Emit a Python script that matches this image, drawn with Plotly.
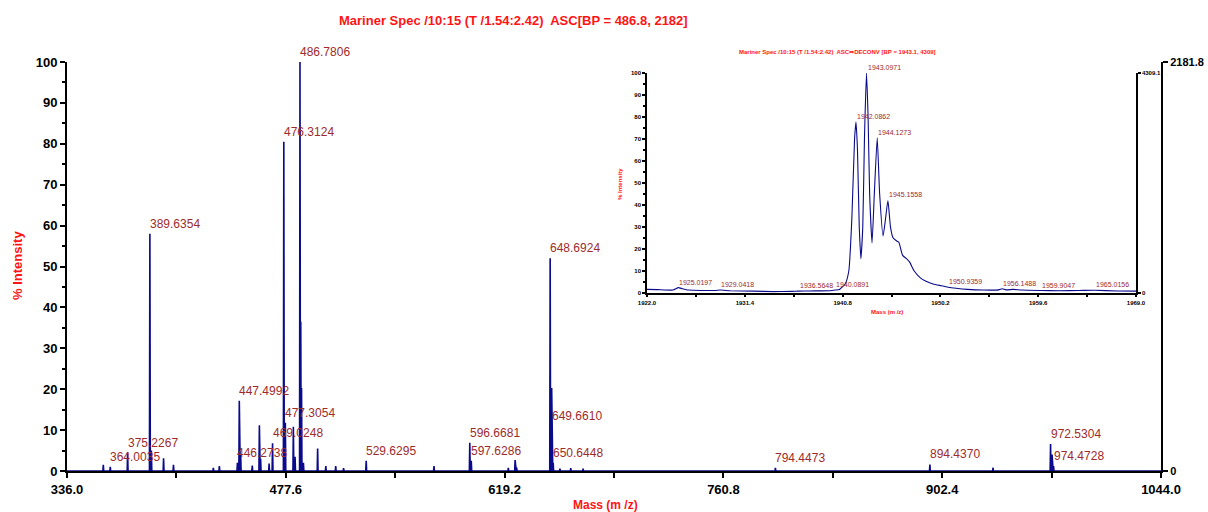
import plotly.graph_objects as go

# ---- Main spectrum: centroided peaks (m/z, % intensity) ----
peak_mz = [359.5, 364.0035, 375.2267, 389.6354, 390.6, 398.5, 404.9, 430.7, 434.6,
           446.2738, 447.4992, 448.4, 455.9, 460.5, 461.3, 466.8, 469.0248,
           476.3124, 477.3054, 482.5, 483.6, 486.7806, 487.28, 487.78, 489.0,
           498.2, 503.5, 509.9, 515.0, 529.6295, 573.5, 596.6681, 597.6286,
           621.6, 626.0, 627.0, 648.6924, 649.6610, 650.6448, 655.0, 662.0, 670.0,
           794.4473, 894.4370, 935.3, 972.5304, 973.5, 974.4728]
peak_int = [1.5, 1.0, 4.5, 58.0, 5.0, 3.1, 1.5, 0.8, 1.2,
            2.0, 17.2, 4.0, 1.3, 11.2, 3.0, 1.8, 6.8,
            80.5, 11.8, 10.8, 3.5, 100.0, 36.5, 20.3, 2.0,
            5.5, 1.2, 1.2, 0.7, 2.5, 1.2, 6.9, 2.5,
            0.8, 2.7, 0.8, 52.0, 20.3, 2.0, 0.6, 0.7, 0.6,
            0.8, 1.6, 0.8, 6.6, 4.0, 1.2]

label_mz = [364.0035, 375.2267, 389.6354, 446.2738, 447.4992, 469.0248, 476.3124,
            477.3054, 486.7806, 529.6295, 596.6681, 597.6286, 648.6924, 649.6610,
            650.6448, 794.4473, 894.4370, 972.5304, 974.4728]

# ---- Deconvoluted inset: profile (mass, % intensity) ----
inset_mz = [1922.0, 1923.0, 1924.5, 1925.0197, 1925.4, 1926.0, 1928.5, 1929.0418,
            1930.0, 1932.2, 1934.1, 1935.9, 1936.5648, 1937.6, 1939.6, 1940.0891,
            1940.5, 1941.05, 1941.4, 1941.7, 1941.95, 1942.0862, 1942.23, 1942.4,
            1942.56, 1942.74, 1942.9, 1943.0971, 1943.25, 1943.4, 1943.63, 1943.85,
            1944.1273, 1944.36, 1944.69, 1944.91, 1945.1558, 1945.4, 1945.65, 1946.0,
            1946.2, 1946.57, 1946.94, 1947.23, 1947.67, 1948.22, 1948.77, 1949.5,
            1950.25, 1950.9359, 1951.7, 1952.8, 1954.3, 1955.8, 1956.1488, 1956.5,
            1957.2, 1958.0, 1959.9047, 1961.6, 1963.5, 1965.0156, 1967.2, 1969.0]
inset_int = [1.5, 1.4, 1.2, 2.3, 1.8, 1.2, 1.0, 1.2,
             0.9, 0.7, 0.5, 0.6, 0.7, 0.8, 0.9, 1.2,
             1.5, 4.0, 10.0, 35.0, 70.0, 77.7, 65.0, 30.0,
             15.5, 30.0, 70.0, 100.0, 80.0, 45.0, 22.7, 45.0,
             70.5, 45.0, 25.8, 33.0, 42.0, 30.0, 25.0, 23.5,
             23.0, 17.0, 15.5, 14.0, 10.0, 7.0, 5.3, 4.0,
             3.2, 2.5, 2.0, 1.5, 1.2, 1.3, 1.8, 1.3,
             1.5, 1.2, 1.0, 0.9, 1.0, 1.1, 0.8, 0.7]

inset_label_mz = [1925.0197, 1929.0418, 1936.5648, 1940.0891, 1942.0862, 1943.0971,
                  1944.1273, 1945.1558, 1950.9359, 1956.1488, 1959.9047, 1965.0156]

main_x_ticks = [336.0, 477.6, 619.2, 760.8, 902.4, 1044.0]
inset_x_ticks = [1922.0, 1931.4, 1940.8, 1950.2, 1959.6, 1969.0]
main_bp_counts = 2181.8
inset_bp_counts = 4309.1

# ---- layout geometry (pixels) ----
W, H = 1208, 512
L, R, T, B = 67, 1161, 62, 471


def px_x(x):
    return (x - L) / (R - L)


def px_y(y):
    return (B - y) / (B - T)


NAVY = "#0A0A8C"
LABEL_RED = "#9E2B2B"
TITLE_RED = "#FF1414"
SANS = "Liberation Sans, Arial, sans-serif"

# stick spectrum drawn as narrow spikes on a continuous baseline
hw = 0.28
xs, ys = [main_x_ticks[0]], [0.0]
for mz, inten in sorted(zip(peak_mz, peak_int)):
    xs += [mz - hw, mz, mz + hw]
    ys += [0.0, inten, 0.0]
xs.append(main_x_ticks[-1])
ys.append(0.0)

fig = go.Figure()
fig.add_trace(go.Scatter(x=xs, y=ys, mode="lines", line=dict(color=NAVY, width=1.6),
                         xaxis="x", yaxis="y", hoverinfo="skip", showlegend=False))
fig.add_trace(go.Scatter(x=[main_x_ticks[0]], y=[0], mode="markers", marker=dict(opacity=0),
                         xaxis="x", yaxis="y2", hoverinfo="skip", showlegend=False))
fig.add_trace(go.Scatter(x=inset_mz, y=inset_int, mode="lines",
                         line=dict(color=NAVY, width=1.1, shape="spline", smoothing=0.5),
                         xaxis="x2", yaxis="y3", hoverinfo="skip", showlegend=False))
fig.add_trace(go.Scatter(x=[inset_x_ticks[0]], y=[0], mode="markers", marker=dict(opacity=0),
                         xaxis="x2", yaxis="y4", hoverinfo="skip", showlegend=False))

ann = []
lookup = dict(zip(peak_mz, peak_int))
nudge = {649.6610: -38}
for mz in label_mz:
    ann.append(dict(x=mz, y=lookup[mz], xref="x", yref="y", text=f"{mz:.4f}",
                    xanchor="left", yanchor="bottom", showarrow=False, xshift=-2,
                    yshift=1 + nudge.get(mz, 0),
                    font=dict(family=SANS, size=12, color=LABEL_RED)))

ilookup = dict(zip(inset_mz, inset_int))
for mz in inset_label_mz:
    ann.append(dict(x=mz, y=ilookup[mz], xref="x2", yref="y3", text=f"{mz:.4f}",
                    xanchor="left", yanchor="bottom", showarrow=False, xshift=-1,
                    yshift=0, font=dict(family=SANS, size=7, color=LABEL_RED)))

# titles
ann.append(dict(x=px_x(513), y=px_y(20), xref="paper", yref="paper",
                text="Mariner Spec /10:15 (T /1.54:2.42)  ASC[BP = 486.8, 2182]",
                showarrow=False, xanchor="center", yanchor="middle",
                font=dict(family=SANS, size=13, color=TITLE_RED, weight="bold")))
ann.append(dict(x=px_x(17), y=px_y(266), xref="paper", yref="paper", text="% Intensity",
                textangle=-90, showarrow=False, xanchor="center", yanchor="middle",
                font=dict(family=SANS, size=13, color=TITLE_RED, weight="bold")))
ann.append(dict(x=px_x(605), y=px_y(505), xref="paper", yref="paper", text="Mass (m /z)",
                showarrow=False, xanchor="center", yanchor="middle",
                font=dict(family=SANS, size=12, color=TITLE_RED, weight="bold")))
ann.append(dict(x=px_x(837), y=px_y(52), xref="paper", yref="paper",
                text="Mariner Spec /10:15 (T /1.54:2.42)  ASC\u21d2DECONV [BP = 1943.1, 4309]",
                showarrow=False, xanchor="center", yanchor="middle",
                font=dict(family=SANS, size=6, color=TITLE_RED, weight="bold")))
ann.append(dict(x=px_x(620), y=px_y(184), xref="paper", yref="paper", text="% Intensity",
                textangle=-90, showarrow=False, xanchor="center", yanchor="middle",
                font=dict(family=SANS, size=6, color=TITLE_RED, weight="bold")))
ann.append(dict(x=px_x(887), y=px_y(312), xref="paper", yref="paper", text="Mass (m /z)",
                showarrow=False, xanchor="center", yanchor="middle",
                font=dict(family=SANS, size=6, color=TITLE_RED, weight="bold")))

tickfont_main = dict(family=SANS, size=13, color="black", weight="bold")
tickfont_right = dict(family=SANS, size=11, color="black", weight="bold")
tickfont_inset = dict(family=SANS, size=6, color="black", weight="bold")

ix0, ix1 = px_x(647), px_x(1136)
iy0, iy1 = px_y(292.7), px_y(73)

fig.update_layout(
    width=W, height=H, autosize=False,
    margin=dict(l=L, r=W - R, t=T, b=H - B, pad=0, autoexpand=False),
    plot_bgcolor="white", paper_bgcolor="white",
    showlegend=False,
    annotations=ann,
    xaxis=dict(domain=[0, 1], range=[main_x_ticks[0], main_x_ticks[-1]], anchor="y",
               automargin=False,
               tickvals=main_x_ticks, ticktext=[f"{v:.1f}" for v in main_x_ticks],
               ticks="outside", ticklen=5, tickwidth=2, tickcolor="black",
               minor=dict(dtick=70.8, tick0=336.0, ticks="outside", ticklen=5,
                          tickwidth=2, tickcolor="black"),
               showline=True, linewidth=2, linecolor="black", showgrid=False,
               zeroline=False, tickfont=tickfont_main),
    yaxis=dict(domain=[0, 1], range=[0, 100], anchor="x", tick0=0, dtick=10,
               automargin=False,
               ticks="outside", ticklen=5, tickwidth=2, tickcolor="black",
               minor=dict(dtick=5, ticks="outside", ticklen=3, tickwidth=2,
                          tickcolor="black"),
               showline=True, linewidth=2, linecolor="black", showgrid=False,
               zeroline=False, tickfont=tickfont_main),
    yaxis2=dict(overlaying="y", side="right", anchor="x", range=[0, main_bp_counts],
                automargin=False,
                tickvals=[0, main_bp_counts], ticktext=["0", f"{main_bp_counts:.1f}"],
                ticks="outside", ticklen=5, tickwidth=2, tickcolor="black",
                showline=True, linewidth=2, linecolor="black", showgrid=False,
                zeroline=False, tickfont=tickfont_right),
    xaxis2=dict(domain=[ix0, ix1], range=[inset_x_ticks[0], inset_x_ticks[-1]], anchor="y3",
                automargin=False,
                tickvals=inset_x_ticks, ticktext=[f"{v:.1f}" for v in inset_x_ticks],
                ticks="outside", ticklen=3, tickwidth=1.5, tickcolor="black",
                minor=dict(dtick=4.7, tick0=1922.0, ticks="outside", ticklen=3,
                           tickwidth=1.5, tickcolor="black"),
                showline=True, linewidth=1.5, linecolor="black", showgrid=False,
                zeroline=False, tickfont=tickfont_inset),
    yaxis3=dict(domain=[iy0, iy1], range=[0, 100], anchor="x2", tick0=0, dtick=10,
                automargin=False,
                ticks="outside", ticklen=3, tickwidth=1.5, tickcolor="black",
                minor=dict(dtick=5, ticks="outside", ticklen=2, tickwidth=1.5,
                           tickcolor="black"),
                showline=True, linewidth=1.5, linecolor="black", showgrid=False,
                zeroline=False, tickfont=tickfont_inset),
    yaxis4=dict(overlaying="y3", side="right", anchor="x2", range=[0, inset_bp_counts],
                automargin=False,
                tickvals=[0, inset_bp_counts], ticktext=["0", f"{inset_bp_counts:.1f}"],
                ticks="outside", ticklen=3, tickwidth=1.5, tickcolor="black",
                showline=True, linewidth=1.5, linecolor="black", showgrid=False,
                zeroline=False, tickfont=tickfont_inset),
)

fig.write_html("out.html")
